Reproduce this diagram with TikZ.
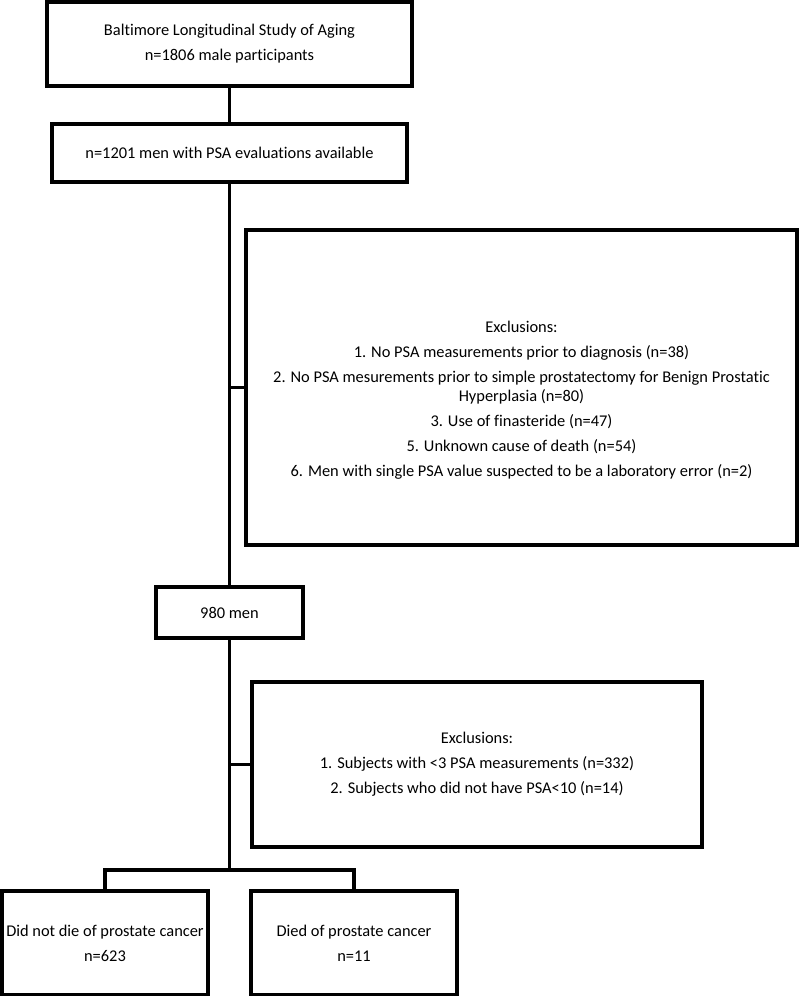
\documentclass[tikz,border=0pt]{standalone}
\usepackage{fontspec}
\setmainfont{Carlito}[Ligatures={NoCommon}]
\begin{document}
\begin{tikzpicture}[x=1pt,y=-1pt,
  box/.style={draw, line width=3.3pt, inner sep=0pt},
  link/.style={draw, line width=3.1pt},
  txt/.style={align=center, inner sep=0pt, font=\fontsize{16.4}{19}\selectfont}]
\useasboundingbox (0,0) rectangle (800,996);
% boxes
\node[box, minimum width=365pt, minimum height=84pt] (b1) at (229.5,44) {};
\node[box, minimum width=355pt, minimum height=58pt] (b2) at (229.5,153) {};
\node[box, minimum width=551pt, minimum height=315pt] (exA) at (521.5,387.5) {};
\node[box, minimum width=147pt, minimum height=51pt] (b3) at (229.5,612.5) {};
\node[box, minimum width=450pt, minimum height=165pt] (exB) at (477,764.5) {};
\node[box, minimum width=206pt, minimum height=104pt] (bA) at (105,943) {};
\node[box, minimum width=206pt, minimum height=104pt] (bB) at (354,943) {};
% texts
\node[txt] (t1) at (229.5,43.5) {Baltimore Longitudinal Study of Aging\\[6pt]n=1806 male participants};
\node[txt] (t2) at (229.5,153) {n=1201 men with PSA evaluations available};
\node[txt] (tA) at (521.5,400) {Exclusions:\\[6pt]
1. No PSA measurements prior to diagnosis (n=38)\\[6pt]
2. No PSA mesurements prior to simple prostatectomy for Benign Prostatic\\
Hyperplasia (n=80)\\[6pt]
3. Use of finasteride (n=47)\\[6pt]
5. Unknown cause of death (n=54)\\[6pt]
6. Men with single PSA value suspected to be a laboratory error (n=2)};
\node[txt] (t3) at (229.5,613) {980 men};
\node[txt] (tB) at (477,764.5) {Exclusions:\\[6pt]
1. Subjects with <3 PSA measurements (n=332)\\[6pt]
2. Subjects who did not have PSA<10 (n=14)};
\node[txt] (tbA) at (105,943) {Did not die of prostate cancer\\[6pt]n=623};
\node[txt] (tbB) at (354,943) {Died of prostate cancer\\[6pt]n=11};
% connectors
\coordinate (split) at (229.5,870);
\draw[link] (b1.south) -- (b2.north);
\draw[link] (b2.south) -- (b3.north);
\draw[link] (b2.south |- exA.west) -- (exA.west);
\draw[link] (b3.south) -- (split);
\draw[link] (split |- exB.west) -- (exB.west);
\draw[link] (bA.north) -- (bA.north |- split) -- (bB.north |- split) -- (bB.north);
\end{tikzpicture}
\end{document}
